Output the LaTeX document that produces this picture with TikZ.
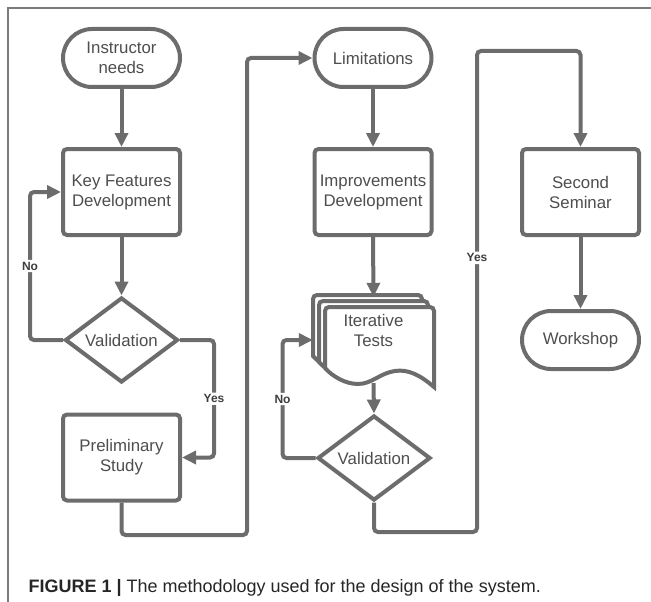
\documentclass[tikz,border=0pt]{standalone}
\usepackage{fontspec}
\setmainfont{Liberation Sans}
\usetikzlibrary{shapes.geometric,shapes.misc,arrows.meta,positioning,calc}
\definecolor{flow}{RGB}{108,108,108}
\definecolor{flowtext}{RGB}{78,78,78}

\begin{document}
\begin{tikzpicture}[x=1pt,y=-1pt,
  >={Triangle[length=14pt,width=13pt]},
  term/.style={rectangle,rounded corners=29pt,draw=flow,line width=4pt,fill=white,
    minimum width=117pt,minimum height=58pt,align=center,text=flowtext,
    font=\fontsize{16.8}{20}\selectfont},
  box/.style={rectangle,rounded corners=4pt,draw=flow,line width=4pt,fill=white,
    minimum width=117pt,minimum height=86pt,align=center,text=flowtext,
    font=\fontsize{16.8}{20}\selectfont},
  dec/.style={diamond,draw=flow,line width=4pt,fill=white,inner sep=0pt,aspect=1.3,
    minimum width=113pt,minimum height=85pt,text=flowtext,
    font=\fontsize{16.8}{20}\selectfont},
  doc/.style={draw=flow,line width=4pt,fill=white},
  ln/.style={flow,line width=4pt,rounded corners=4pt},
  lab/.style={fill=white,inner sep=2pt,text=flowtext!80!black,
    font=\fontsize{12}{14}\selectfont\bfseries},
  ]
  \useasboundingbox (0,0) rectangle (651,602);
  \draw[flow!90,line width=1.2pt] (8,602) -- (8,8) -- (651,8);

  % left column
  \node at (121.5,58) [term] (need) {Instructor\\needs};
  \node at (121.5,192) [box] (key) {Key Features\\Development};
  \node at (121.5,340) [dec] (val1) {Validation};
  \node at (121.5,457.5) [box] (prelim) {Preliminary\\Study};

  % middle column
  \node at (373,58) [term] (limit) {Limitations};
  \node at (373,192) [box] (impr) {Improvements\\Development};
  \foreach \s in {12,6,0}
    \draw[doc,xshift=-\s pt,yshift=\s pt] [rounded corners=4pt] (325,345) -- (325,307)
      -- (434,307) -- (434,345) [sharp corners] -- (434,387)
      .. controls (420,375) and (408,369) .. (395,371)
      .. controls (380,373) and (372,384) .. (358,384)
      .. controls (345,384) and (332,376) .. (325,368) -- cycle;
  \node at (373.5,340) [minimum width=121pt,minimum height=86pt,align=center,
    text=flowtext,font=\fontsize{16.8}{20}\selectfont] (tests) {Iterative\\Tests\\\mbox{}};
  \node at (374,458) [dec] (val2) {Validation};

  % right column
  \node at (580.5,192) [box] (second) {Second\\Seminar};
  \node at (580.5,340) [term] (work) {Workshop};

  \coordinate (c1) at (247,535);
  \coordinate (c2) at (477,532);
  \coordinate (c3) at (477,51);

  \draw (need.south) edge [->,ln] (key.north);
  \draw (key.south) edge [->,ln] (val1.north);
  \draw[->,ln] (val1.west) -- ++(-33,0) |- node[pos=0.25,lab] {No} (key.west);
  \draw[->,ln] (val1.east) -- ++(34,0) |- node[pos=0.25,lab] {Yes} (prelim.east);
  \draw[->,ln] (prelim.south) |- (c1) |- (limit.west);
  \draw (limit.south) edge [->,ln] (impr.north);
  \draw (impr.south) edge [->,ln] (tests.north);
  \draw (tests.south) edge [->,ln] (val2.north);
  \draw[->,ln] (val2.west) -- ++(-33,0) |- node[pos=0.25,lab] {No} (tests.west);
  \draw[->,ln] (val2.south) |- (c2) -- node[pos=0.57,lab] {Yes} (c3) -| (second.north);
  \draw (second.south) edge [->,ln] (work.north);

  \node at (25,592) [anchor=base west,font=\fontsize{18}{22}\selectfont,text=black!85]
    (cap) {\textbf{FIGURE 1 |} The methodology used for the design of the system.};
\end{tikzpicture}
\end{document}
